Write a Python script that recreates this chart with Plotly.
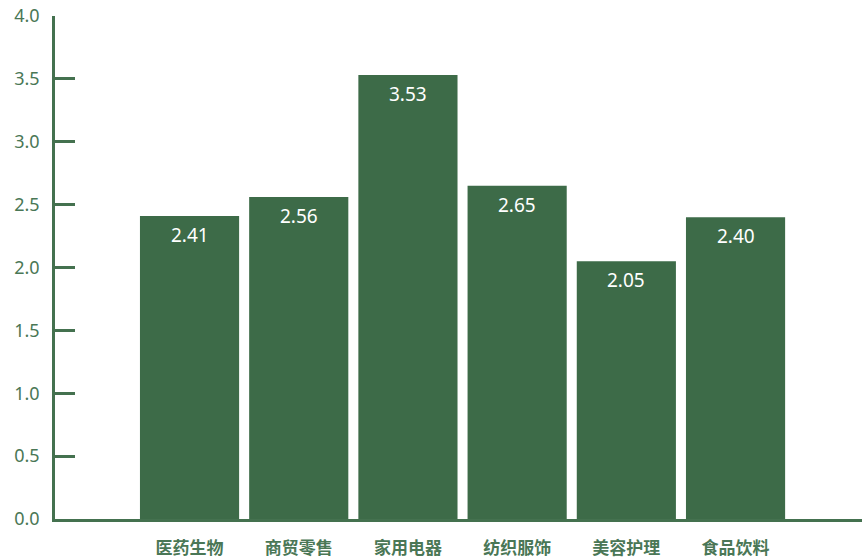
import plotly.graph_objects as go

# Industry categories and their values
categories = ["医药生物", "商贸零售", "家用电器", "纺织服饰", "美容护理", "食品饮料"]
values = [2.41, 2.56, 3.53, 2.65, 2.05, 2.40]
y_ticks = [0.0, 0.5, 1.0, 1.5, 2.0, 2.5, 3.0, 3.5, 4.0]

BAR = "#3d6b48"
AXIS = "#44714f"
TEXT = "#4a7756"

fig = go.Figure(
    go.Bar(
        x=categories,
        y=values,
        marker=dict(color=BAR, line=dict(width=0)),
        hoverinfo="skip",
    )
)

# value labels inside the top of each bar
for cat, val in zip(categories, values):
    fig.add_annotation(
        x=cat, y=val, text=f"{val:.2f}", showarrow=False,
        yanchor="middle", yshift=-19,
        font=dict(family="Noto Sans, sans-serif", size=19, color="white"),
    )

fig.update_layout(
    width=863, height=558,
    margin=dict(l=55, r=1, t=16, b=39),
    paper_bgcolor="white", plot_bgcolor="white",
    bargap=0.092,
    showlegend=False,
    xaxis=dict(
        type="category",
        range=[-1.232, 6.158],
        automargin=False,
        showgrid=False, zeroline=False,
        showline=True, linecolor=AXIS, linewidth=2.5,
        ticks="",
        ticklabelstandoff=12,
        tickfont=dict(family="Noto Sans CJK SC", size=17, color=TEXT, weight="bold"),
    ),
    yaxis=dict(
        range=[0, 4.0],
        automargin=False,
        tickvals=y_ticks,
        tickformat=".1f",
        showgrid=False, zeroline=False,
        showline=True, linecolor=AXIS, linewidth=2.5,
        ticks="inside", ticklen=20, tickwidth=2.5, tickcolor=AXIS,
        ticklabelstandoff=9,
        tickfont=dict(family="Noto Sans, sans-serif", size=18, color=TEXT),
    ),
)

fig.write_html("out.html")
